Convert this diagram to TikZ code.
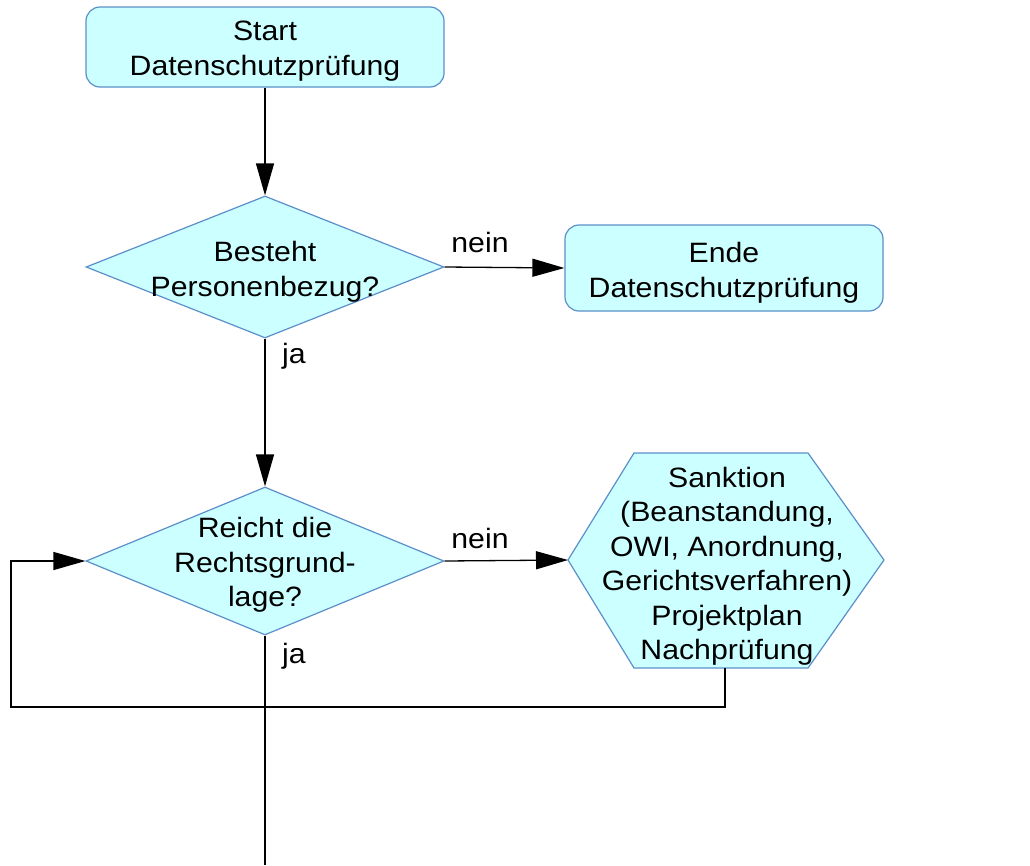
\documentclass[tikz,border=0pt]{standalone}
\usepackage{fontspec}
\setmainfont{Liberation Sans}[FakeStretch=1.08]
\usetikzlibrary{shapes.geometric,arrows.meta}
\definecolor{boxfill}{HTML}{CCFFFF}
\definecolor{boxline}{HTML}{5B8FC9}
\begin{document}
\begin{tikzpicture}[x=1pt,y=-1pt,
  every node/.style={font=\fontsize{28}{34.5}\selectfont, text=black},
  termbox/.style={draw=boxline, fill=boxfill, line width=1.2pt, rounded corners=14pt, minimum width=358pt, minimum height=80pt, inner sep=0pt},
  decision/.style={draw=boxline, fill=boxfill, line width=1.2pt, diamond, minimum width=358pt, minimum height=142pt, inner sep=0pt},
  hexshape/.style={draw=boxline, fill=boxfill, line width=1.2pt},
  flow/.style={line width=1.3pt, -{Triangle[length=32pt,width=18pt]}},
  plainline/.style={line width=1.3pt},
  lbl/.style={align=center, inner sep=0pt}
]
\useasboundingbox[fill=white] (0,0) rectangle (1030,865);

\node[termbox] (start) at (265,47) {};
\node[lbl] (startt) at (265,51) {Start\\Datenschutzprüfung};
\node[decision] (d1) at (265,267) {};
\node[lbl] (d1t) at (265,272) {Besteht\\Personenbezug?};
\node[termbox, minimum width=318pt, minimum height=86pt] (ende) at (724,268) {};
\node[lbl] (endet) at (724,273) {Ende\\Datenschutzprüfung};
\node[decision, minimum height=148pt] (d2) at (265,561) {};
\node[lbl] (d2t) at (265,565) {Reicht die\\Rechtsgrund-\\lage?};

\coordinate (hW) at (568,560);
\coordinate (hNW) at (634,453);
\coordinate (hNE) at (808,453);
\coordinate (hE) at (884,560);
\coordinate (hSE) at (808,668);
\coordinate (hSW) at (634,668);
\coordinate (hS) at (725,668);
\draw[hexshape] (hW) -- (hNW) -- (hNE) -- (hE) -- (hSE) -- (hSW) -- cycle;
\node[lbl] (hex) at (727,566) {Sanktion\\(Beanstandung,\\OWI, Anordnung,\\Gerichtsverfahren)\\Projektplan\\Nachprüfung};

\coordinate (loopL) at (11,707);
\coordinate (bottom) at (265,865);

\draw[flow] (start.south) -- (d1.north);
\draw[flow] (d1.east) -- (ende.west);
\node[lbl] (n1) at (480,242) {nein};
\draw[flow] (d1.south) -- (d2.north);
\node[lbl] (j1) at (294,356) {ja};
\draw[flow] (d2.east) -- (hW);
\node[lbl] (n2) at (480,538) {nein};
\draw[flow] (hS) |- (loopL) |- (d2.west);
\node[lbl] (j2) at (294,656) {ja};
\draw[plainline] (d2.south) -- (bottom);
\end{tikzpicture}
\end{document}
